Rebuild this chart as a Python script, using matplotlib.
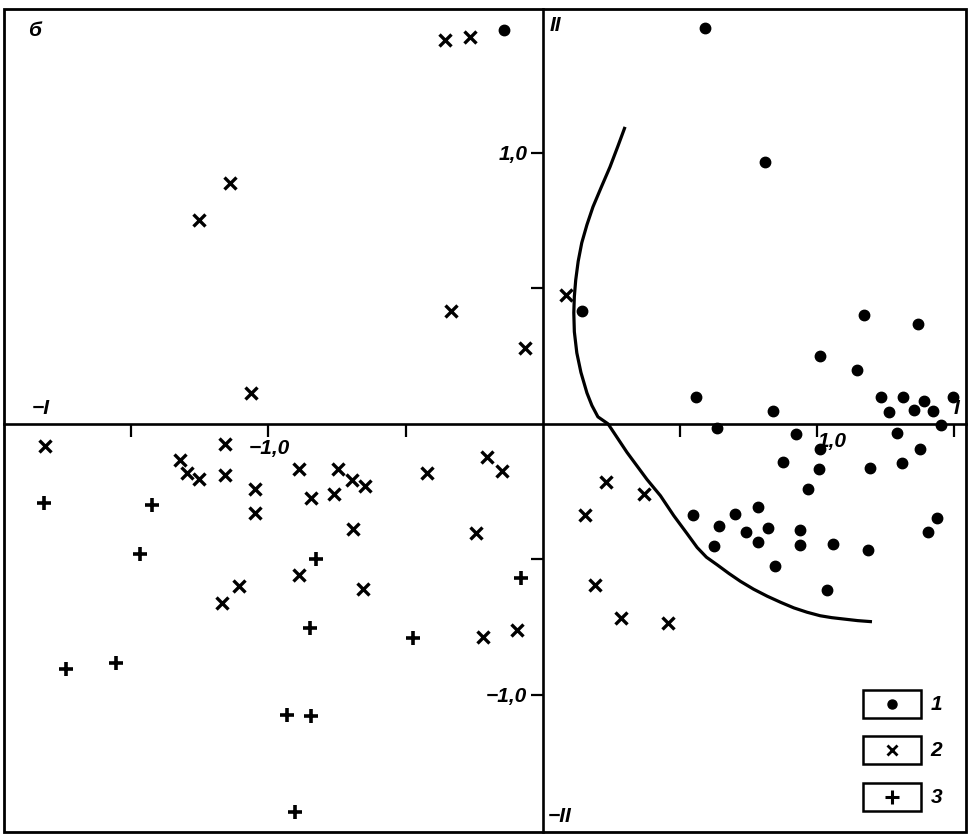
import matplotlib
matplotlib.use("Agg")
import matplotlib.pyplot as plt
from matplotlib.patches import Rectangle

plt.rcParams['font.family'] = ['Liberation Sans Narrow', 'Liberation Sans', 'DejaVu Sans']

# ---- data ----
class1_x = [-0.14, 0.593, 0.812, 0.143, 1.173, 1.371, 1.013, 1.146, 0.560, 0.842,
            1.234, 1.314, 1.393, 1.498, 1.265, 1.354, 1.426,
            0.638, 0.926, 1.012, 1.295, 1.455, 0.877, 1.009, 1.194, 1.311, 1.377,
            0.969, 0.549, 0.785, 0.701, 0.644, 0.744, 0.824, 0.785, 0.625, 0.939,
            0.939, 1.058, 1.187, 0.849, 1.038, 1.408, 1.440]
class1_y = [1.455, 1.461, 0.967, 0.415, 0.402, 0.370, 0.250, 0.198, 0.098, 0.046,
            0.098, 0.100, 0.085, 0.098, 0.043, 0.051, 0.046,
            -0.014, -0.038, -0.094, -0.032, -0.005, -0.141, -0.165, -0.164, -0.143, -0.091,
            -0.242, -0.337, -0.307, -0.331, -0.378, -0.400, -0.383, -0.436, -0.452, -0.393,
            -0.448, -0.442, -0.464, -0.523, -0.612, -0.399, -0.347]

class2_x = [-0.356, -0.266, -1.142, -1.253, -0.333, -0.064, -1.062, 0.086,
            -1.817, -1.159, -1.324, -1.298, -1.252, -1.157, -1.050, -1.050, -0.887,
            -0.844, -0.748, -0.761, -0.697, -0.648, -0.690, -0.420, -0.202, -0.147,
            -0.243, -0.889, -1.108, -1.170, -0.656, -0.217, -0.093,
            0.230, 0.371, 0.156, 0.193, 0.287, 0.456]
class2_y = [1.418, 1.429, 0.888, 0.752, 0.417, 0.281, 0.113, 0.476,
            -0.081, -0.073, -0.133, -0.183, -0.205, -0.189, -0.241, -0.328, -0.168,
            -0.272, -0.168, -0.260, -0.208, -0.229, -0.388, -0.183, -0.124, -0.173,
            -0.404, -0.556, -0.597, -0.662, -0.609, -0.786, -0.761,
            -0.215, -0.260, -0.337, -0.595, -0.717, -0.736]

class3_x = [-1.819, -1.425, -1.470, -0.828, -0.077, -0.848, -0.472, -1.738, -1.555,
            -0.932, -0.844, -0.902]
class3_y = [-0.292, -0.301, -0.481, -0.498, -0.568, -0.752, -0.790, -0.904, -0.883,
            -1.076, -1.078, -1.433]

boundary_x = [0.301, 0.275, 0.246, 0.214, 0.184, 0.162, 0.143, 0.130, 0.121, 0.116,
              0.114, 0.116, 0.125, 0.140, 0.162, 0.180, 0.202, 0.239,
              0.308, 0.381, 0.430, 0.479, 0.528, 0.564, 0.598, 0.637, 0.680, 0.722,
              0.770, 0.820, 0.870, 0.917, 0.965, 1.013, 1.055, 1.098, 1.150, 1.202]
boundary_y = [1.096, 1.025, 0.948, 0.873, 0.801, 0.735, 0.668, 0.600, 0.531, 0.470,
              0.410, 0.340, 0.262, 0.190, 0.114, 0.068, 0.026, 0.000,
              -0.105, -0.205, -0.265, -0.339, -0.406, -0.456, -0.492, -0.520, -0.552, -0.581,
              -0.610, -0.636, -0.659, -0.679, -0.695, -0.708, -0.715, -0.720, -0.726, -0.730]

legend_labels = ['1', '2', '3']
x_ticks = [-1.5, -1.0, -0.5, 0.5, 1.0, 1.5]
y_ticks = [-1.0, -0.5, 0.5, 1.0]

# ---- figure ----
fig = plt.figure(figsize=(9.68, 8.35), dpi=100)
ax = fig.add_axes([4 / 968, 3 / 835, 962 / 968, 823 / 835])
ax.set_xlim(-1.965, 1.545)
ax.set_ylim(-1.506, 1.531)

lw_axis = 1.9
tfont = dict(fontstyle='italic', fontweight='bold', fontsize=15)

ax.spines['top'].set_visible(False)
ax.spines['right'].set_visible(False)
for s in ('left', 'bottom'):
    ax.spines[s].set_position(('data', 0))
    ax.spines[s].set_linewidth(lw_axis)
ax.add_patch(Rectangle((0, 0), 1, 1, transform=ax.transAxes, fill=False,
                       lw=2.0, ec='black', clip_on=False, zorder=5))

ax.set_xticks(x_ticks)
ax.set_xticklabels([''] * len(x_ticks))
ax.set_yticks(y_ticks)
ax.set_yticklabels(['−1,0' if v == -1.0 else ('1,0' if v == 1.0 else '') for v in y_ticks],
                   **tfont)
ax.tick_params(axis='both', direction='out', length=9, width=1.6, pad=2)

# x tick labels
ax.annotate('1,0', xy=(1.0, 0), xytext=(1, -6), textcoords='offset points',
            ha='left', va='top', **tfont)
ax.annotate('−1,0', xy=(-1.0, 0), xytext=(-14, -11), textcoords='offset points',
            ha='left', va='top', **tfont)

# data
ax.plot(boundary_x, boundary_y, color='black', lw=2.3, solid_capstyle='butt',
        solid_joinstyle='round', zorder=3)
ax.plot(class1_x, class1_y, 'o', color='black', ms=7.5, zorder=4)
ax.plot(class2_x, class2_y, 'x', color='black', ms=8.5, mew=2.4, zorder=4)
ax.plot(class3_x, class3_y, '+', color='black', ms=10.5, mew=2.6, zorder=4)

# quadrant / panel labels
ax.text(0.025, 0.985, 'б', transform=ax.transAxes, ha='left', va='top', **tfont)
ax.annotate('−I', xy=(-1.965, 0), xytext=(20, 4), textcoords='offset points',
            ha='left', va='bottom', **tfont)
ax.annotate('I', xy=(1.545, 0), xytext=(-5, 4), textcoords='offset points',
            ha='right', va='bottom', **tfont)
ax.annotate('II', xy=(0, 1.531), xytext=(5, -5), textcoords='offset points',
            ha='left', va='top', **tfont)
ax.annotate('−II', xy=(0, -1.506), xytext=(4, 4), textcoords='offset points',
            ha='left', va='bottom', **tfont)

# legend boxes
box_cx = 0.923
box_w = 0.0603
box_h = 0.033
centers_y = [0.1555, 0.0996, 0.0425]
markers = [dict(marker='o', ms=6.5), dict(marker='x', ms=7.5, mew=2.0),
           dict(marker='+', ms=9.5, mew=2.2)]
for cy, lab, mk in zip(centers_y, legend_labels, markers):
    ax.add_patch(Rectangle((box_cx - box_w / 2, cy - box_h / 2), box_w, box_h,
                           transform=ax.transAxes, fill=False, lw=1.8, ec='black',
                           zorder=5))
    ax.plot([box_cx], [cy], transform=ax.transAxes, color='black', ls='none',
            zorder=6, **mk)
    ax.text(box_cx + box_w / 2 + 0.01, cy, lab, transform=ax.transAxes,
            ha='left', va='center', **tfont)

fig.savefig('out.png', dpi=100)
